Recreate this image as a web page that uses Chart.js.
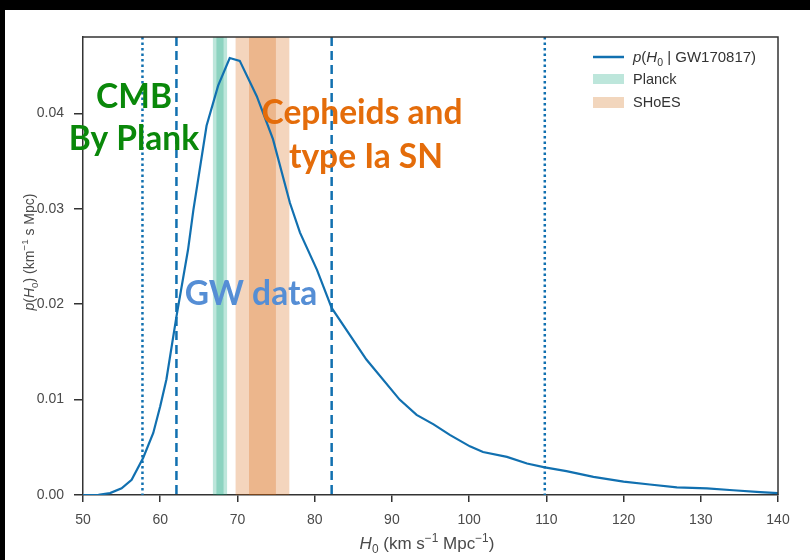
<!DOCTYPE html>
<html>
<head>
<meta charset="utf-8">
<script src="https://cdn.jsdelivr.net/npm/chart.js@4"></script>
<style>
  html, body { margin: 0; padding: 0; background: #000; }
  canvas { display: block; }
</style>
</head>
<body>
<canvas id="chart" width="810" height="560"></canvas>
<script>
// Posterior on the Hubble constant from GW170817 (km s^-1 Mpc^-1 vs density)
const h0Grid = [50, 52, 53.5, 55.0, 56.3, 57.8, 59.1, 60.0, 60.8, 62.1, 63.6, 64.3, 66.0, 67.5, 69.0,
  70.3, 72.5, 74.6, 76.8, 78.1, 80.3, 82.2, 86.7, 91.0, 93.2, 95.4, 97.5, 100.1, 101.8, 104.9,
  107.5, 109.8, 112.6, 116.1, 120.0, 123.4, 126.9, 130.8, 134.2, 137.7, 140];
const posterior = [0, 0.00002, 0.0002, 0.0007, 0.0016, 0.0039, 0.0065, 0.0093, 0.0121, 0.0187, 0.0257,
  0.0299, 0.0387, 0.0429, 0.0458, 0.0455, 0.0418, 0.0373, 0.0306, 0.0275, 0.0236, 0.0196, 0.0142,
  0.0100, 0.0084, 0.0074, 0.0063, 0.0051, 0.0045, 0.0040, 0.0033, 0.0029, 0.0025, 0.0019, 0.0014,
  0.0011, 0.0008, 0.0007, 0.0005, 0.0003, 0.0002];

// Independent measurements: [mean, 1-sigma]
const planckH0 = [67.74, 0.46];
const shoesH0 = [73.24, 1.74];

// Credible-interval markers
const dashedMarks = [62.1, 82.2];
const dottedMarks = [57.7, 109.8];

const xTicks = [50, 60, 70, 80, 90, 100, 110, 120, 130, 140];
const yTicks = [0, 0.01, 0.02, 0.03, 0.04];
const legendLabels = ['Planck', 'SHoES'];

const BLUE = '#1170b0';
const AXIS = '#333333';
const TICK_TXT = '#4a4a4a';
const PLANCK_FILL = 'rgba(0,158,115,0.26)';
const SHOES_FILL = 'rgba(213,94,0,0.26)';
const PLANCK_SWATCH = '#bde6db';
const SHOES_SWATCH = '#f2d6bd';
const SANS = '"Liberation Sans", Arial, sans-serif';

// Draw a run of text pieces with italic / sub / superscript styling
function richWidth(ctx, parts, size) {
  let w = 0;
  for (const p of parts) {
    const s = (p.sub || p.sup) ? size * 0.7 : size;
    ctx.font = (p.it ? 'italic ' : '') + s + 'px ' + SANS;
    w += ctx.measureText(p.t).width;
  }
  return w;
}
function richDraw(ctx, parts, x, y, size) {
  let cx = x;
  for (const p of parts) {
    const s = (p.sub || p.sup) ? size * 0.7 : size;
    ctx.font = (p.it ? 'italic ' : '') + s + 'px ' + SANS;
    const dy = p.sub ? size * 0.25 : (p.sup ? -size * 0.4 : 0);
    ctx.fillText(p.t, cx, y + dy);
    cx += ctx.measureText(p.t).width;
  }
}

const xTitle = [{t: 'H', it: true}, {t: '0', sub: true}, {t: ' (km s'}, {t: '\u22121', sup: true},
  {t: ' Mpc'}, {t: '\u22121', sup: true}, {t: ')'}];
const yTitle = [{t: 'p', it: true}, {t: '('}, {t: 'H', it: true}, {t: '0', sub: true}, {t: ') (km'},
  {t: '\u22121', sup: true}, {t: ' s Mpc)'}];
const seriesLabel = [{t: 'p', it: true}, {t: '('}, {t: 'H', it: true}, {t: '0', sub: true},
  {t: ' | GW170817)'}];

const decorations = {
  id: 'decorations',
  beforeDraw(chart) {
    const ctx = chart.ctx;
    ctx.save();
    ctx.fillStyle = '#000';
    ctx.fillRect(0, 0, chart.width, chart.height);
    ctx.fillStyle = '#fff';
    ctx.fillRect(5, 10, chart.width - 5, chart.height - 10);
    ctx.restore();
  },
  beforeDatasetsDraw(chart) {
    const {ctx, chartArea: a, scales: {x}} = chart;
    ctx.save();
    const band = (m, s, k, color) => {
      const l = x.getPixelForValue(m - k * s), r = x.getPixelForValue(m + k * s);
      ctx.fillStyle = color;
      ctx.fillRect(l, a.top, r - l, a.bottom - a.top);
    };
    for (const k of [2, 1]) band(planckH0[0], planckH0[1], k, PLANCK_FILL);
    for (const k of [2, 1]) band(shoesH0[0], shoesH0[1], k, SHOES_FILL);

    ctx.strokeStyle = BLUE;
    ctx.lineWidth = 2.5;
    const vline = (v, dash) => {
      const px = x.getPixelForValue(v);
      ctx.setLineDash(dash);
      ctx.beginPath();
      ctx.moveTo(px, a.top);
      ctx.lineTo(px, a.bottom);
      ctx.stroke();
    };
    dashedMarks.forEach(v => vline(v, [9, 5]));
    dottedMarks.forEach(v => vline(v, [2.5, 3]));
    ctx.restore();
  },
  afterDraw(chart) {
    const {ctx, chartArea: a} = chart;
    ctx.save();
    // top & right frame
    ctx.strokeStyle = AXIS;
    ctx.lineWidth = 1.5;
    ctx.beginPath();
    ctx.moveTo(a.left, a.top);
    ctx.lineTo(a.right, a.top);
    ctx.lineTo(a.right, a.bottom);
    ctx.stroke();

    // axis titles
    ctx.fillStyle = TICK_TXT;
    ctx.textBaseline = 'alphabetic';
    ctx.textAlign = 'left';
    const tw = richWidth(ctx, xTitle, 17);
    richDraw(ctx, xTitle, 427 - tw / 2, 549, 17);
    ctx.save();
    ctx.translate(34, 252);
    ctx.rotate(-Math.PI / 2);
    const yw = richWidth(ctx, yTitle, 14);
    richDraw(ctx, yTitle, -yw / 2, 0, 14);
    ctx.restore();

    // legend
    ctx.strokeStyle = BLUE;
    ctx.lineWidth = 2.5;
    ctx.setLineDash([]);
    ctx.beginPath();
    ctx.moveTo(593, 57);
    ctx.lineTo(624, 57);
    ctx.stroke();
    ctx.fillStyle = '#333';
    richDraw(ctx, seriesLabel, 633, 62, 15);
    ctx.fillStyle = PLANCK_SWATCH;
    ctx.fillRect(593, 74, 31, 10);
    ctx.fillStyle = SHOES_SWATCH;
    ctx.fillRect(593, 97, 31, 11);
    ctx.fillStyle = '#333';
    ctx.font = '14.5px ' + SANS;
    ctx.fillText(legendLabels[0], 633, 84);
    ctx.fillText(legendLabels[1], 633, 107);

    // annotations
    ctx.textAlign = 'center';
    ctx.font = 'bold 33.5px Lato, "Open Sans", sans-serif';
    ctx.fillStyle = '#0a880a';
    ctx.fillText('CMB', 134, 108);
    ctx.fillText('By Plank', 134, 150);
    ctx.fillStyle = '#e46c0a';
    ctx.fillText('Cepheids and', 362, 124);
    ctx.fillText('type Ia SN', 366, 168);
    ctx.fillStyle = '#558ed5';
    ctx.fillText('GW data', 251, 305);
    ctx.restore();
  }
};

new Chart(document.getElementById('chart'), {
  type: 'line',
  data: {
    datasets: [{
      label: 'p(H0 | GW170817)',
      data: h0Grid.map((h, i) => ({x: h, y: posterior[i]})),
      borderColor: BLUE,
      borderWidth: 2.2,
      pointRadius: 0,
      tension: 0,
      fill: false
    }]
  },
  options: {
    responsive: false,
    animation: false,
    layout: {padding: {left: 0, top: 37, right: 32, bottom: 0}},
    plugins: {legend: {display: false}, tooltip: {enabled: false}},
    scales: {
      x: {
        type: 'linear', min: 50, max: 140,
        afterBuildTicks: s => { s.ticks = xTicks.map(v => ({value: v})); },
        afterFit: s => { s.height = 65; },
        ticks: {color: TICK_TXT, font: {family: SANS, size: 14}, padding: 10, maxRotation: 0},
        grid: {drawOnChartArea: false, drawTicks: true, tickLength: 7, color: AXIS, lineWidth: 1.5},
        border: {display: true, color: AXIS, width: 1.5}
      },
      y: {
        type: 'linear', min: 0, max: 0.048,
        afterBuildTicks: s => { s.ticks = yTicks.map(v => ({value: v})); },
        afterFit: s => { s.width = 83; },
        ticks: {color: TICK_TXT, font: {family: SANS, size: 14}, padding: 10,
          callback: v => v.toFixed(2)},
        grid: {drawOnChartArea: false, drawTicks: true, tickLength: 9, color: AXIS, lineWidth: 1.5},
        border: {display: true, color: AXIS, width: 1.5}
      }
    }
  },
  plugins: [decorations]
});
</script>
</body>
</html>
